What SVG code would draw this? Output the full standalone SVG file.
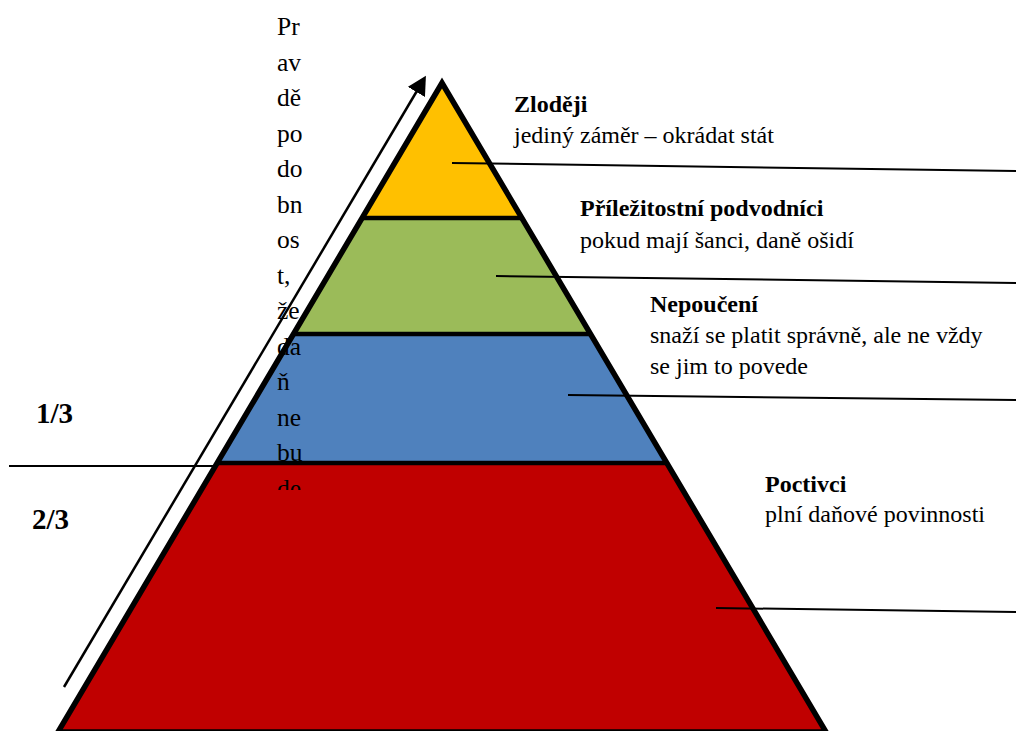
<svg xmlns="http://www.w3.org/2000/svg" width="1016" height="731" viewBox="0 0 1016 731">
<style>
.t{font-family:"Liberation Serif","Times New Roman",serif;font-size:24px;fill:#000}
.c{font-family:"Liberation Serif","Times New Roman",serif;font-size:25.5px;fill:#000}
.b{font-weight:bold}
.big{font-family:"Liberation Serif","Times New Roman",serif;font-size:29px;font-weight:bold;fill:#000}
.conn{stroke:#000;stroke-width:2;fill:none}
.div{stroke:#000;stroke-width:4.5}
</style>
<defs>
<marker id="ah" markerWidth="8" markerHeight="8" refX="6" refY="4" orient="auto" markerUnits="strokeWidth">
<path d="M0,0 L7.5,4 L0,8 Z" fill="#000"/>
</marker>
<clipPath id="colclip"><rect x="250" y="0" width="120" height="490"/></clipPath>
</defs>
<rect x="0" y="0" width="1016" height="731" fill="#fff"/>
<g id="pyramid">
<g id="layer-zlodeji"><polygon points="442,83 522,218 362,218" fill="#FFC000"/></g>
<g id="layer-prilezitostni"><polygon points="362,218 522,218 591,334 293,334" fill="#9BBB59"/></g>
<g id="layer-nepouceni"><polygon points="293,334 591,334 667,463 217,463" fill="#4F81BD"/></g>
<g id="layer-poctivci"><polygon points="217,463 667,463 826,732 58,732" fill="#C00000"/></g>
<line class="div" x1="362" y1="218" x2="522" y2="218"/>
<line class="div" x1="293" y1="334" x2="591" y2="334"/>
<line class="div" x1="217" y1="463" x2="667" y2="463"/>
<polygon points="442,83 826,732 58,732" fill="none" stroke="#000" stroke-width="5.5" stroke-miterlimit="10"/>
</g>
<g id="connectors">
<line class="conn" x1="452" y1="163" x2="1016" y2="171"/>
<line class="conn" x1="496" y1="276" x2="1016" y2="283"/>
<line class="conn" x1="568" y1="395" x2="1016" y2="400"/>
<line class="conn" x1="716" y1="608" x2="1016" y2="612"/>
<line stroke="#000" stroke-width="1.8" x1="9" y1="466" x2="217" y2="466"/>
<line stroke="#000" stroke-width="2.5" x1="64" y1="687" x2="424" y2="79" marker-end="url(#ah)"/>
</g>
<g id="labels">
<g id="node-zlodeji">
<text class="t b" x="514" y="112">Zloději</text>
<text class="t" x="514" y="143">jediný záměr – okrádat stát</text>
</g>
<g id="node-prilezitostni">
<text class="t b" x="580" y="216">Příležitostní podvodníci</text>
<text class="t" x="580" y="248">pokud mají šanci, daně ošidí</text>
</g>
<g id="node-nepouceni">
<text class="t b" x="650" y="312">Nepoučení</text>
<text class="t" x="650" y="343">snaží se platit správně, ale ne vždy</text>
<text class="t" x="650" y="374">se jim to povede</text>
</g>
<g id="node-poctivci">
<text class="t b" x="765" y="492">Poctivci</text>
<text class="t" x="765" y="522">plní daňové povinnosti</text>
</g>
<text class="big" x="36" y="423">1/3</text>
<text class="big" x="32" y="529">2/3</text>
</g>
<g id="column-text" clip-path="url(#colclip)">
<text class="c" x="277" y="35">Pr</text>
<text class="c" x="277" y="70.5">av</text>
<text class="c" x="277" y="106">dě</text>
<text class="c" x="277" y="141.5">po</text>
<text class="c" x="277" y="177">do</text>
<text class="c" x="277" y="212.5">bn</text>
<text class="c" x="277" y="248">os</text>
<text class="c" x="277" y="283.5">t,</text>
<text class="c" x="277" y="319">že</text>
<text class="c" x="277" y="354.5">da</text>
<text class="c" x="277" y="390">ň</text>
<text class="c" x="277" y="425.5">ne</text>
<text class="c" x="277" y="461">bu</text>
<text class="c" x="277" y="496.5">de</text>
</g>
</svg>
